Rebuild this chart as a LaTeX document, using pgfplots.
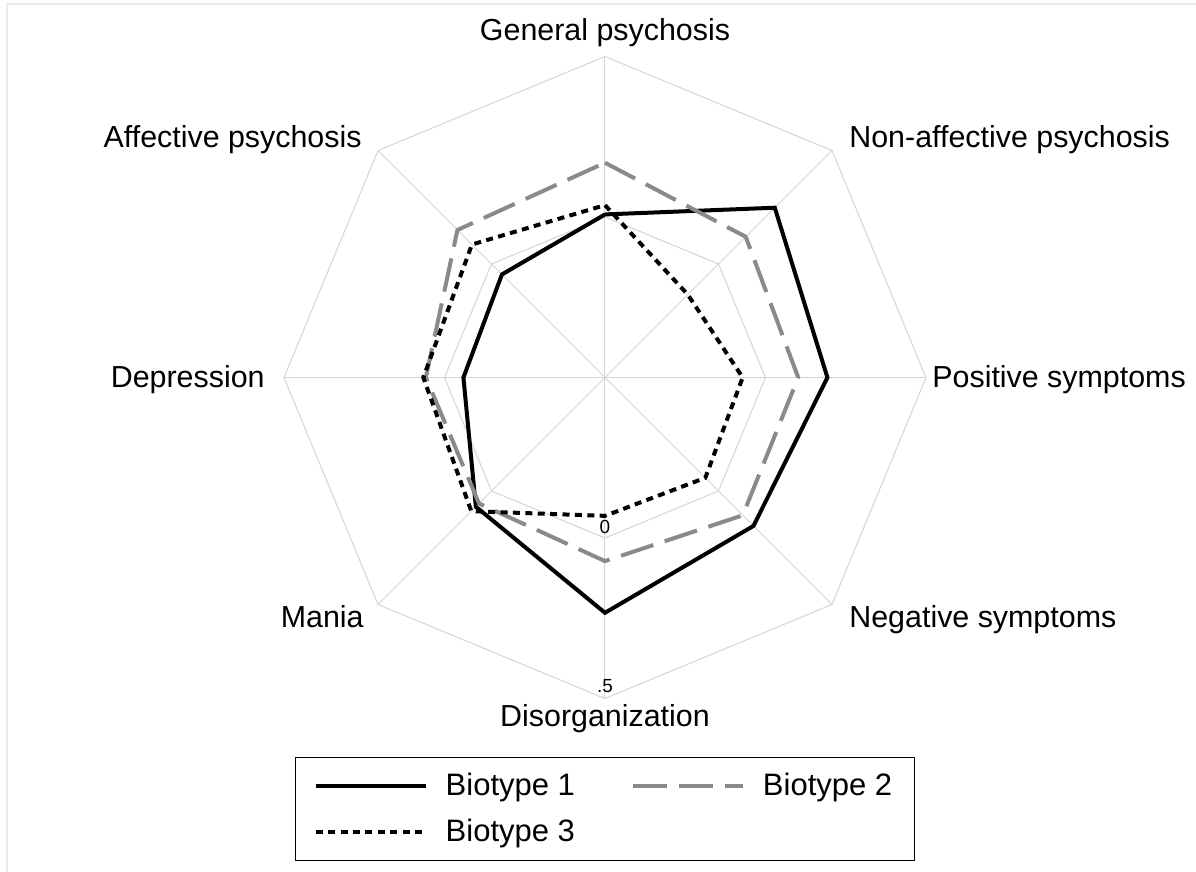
\documentclass[border=0pt]{standalone}
\usepackage{pgfplots}
\pgfplotsset{compat=1.18}
\usepackage{pgfplotstable}
\usepgfplotslibrary{polar}
\usepackage{fontspec}
\setmainfont{Liberation Sans}
\definecolor{gridc}{RGB}{212,212,212}
\definecolor{btwo}{RGB}{138,138,138}
\definecolor{framec}{RGB}{235,235,235}

% angle (deg), Biotype 1, Biotype 2, Biotype 3 (scale -0.5 .. 0.5)
\pgfplotstableread{
angle b1     b2     b3
90    0.008  0.169  0.037
45    0.248  0.120  -0.135
0     0.193  0.102  -0.071
315   0.154  0.107  -0.058
270   0.233  0.072  -0.069
225   0.069  0.055  0.089
180   -0.059 0.058  0.066
135   -0.046 0.150  0.086
90    0.008  0.169  0.037
}\radardata

\begin{document}
\begin{tikzpicture}
\begin{scope}[x=0.5pt,y=0.5pt]
\path[use as bounding box] (-605,-494.5) rectangle (591,377.5);
\draw[framec,line width=1.2pt] (-598,-500) -- (-598,373.5) -- (600,373.5);
\end{scope}
\begin{polaraxis}[
  at={(0pt,0pt)}, anchor=center,
  scale only axis, width=321pt, height=321pt,
  ymin=0, ymax=1, xmin=0, xmax=360,
  hide axis, clip=false,
  xtick=\empty, ytick=\empty,
  legend style={at={(0.5,-0.0907)}, anchor=north,
    draw=black, line width=0.6pt,
    font=\fontsize{15.5pt}{18pt}\selectfont,
    inner xsep=9pt, inner ysep=6pt,
    /tikz/every odd column/.append style={column sep=7pt},
    /tikz/every even column/.append style={column sep=26pt},
    row sep=6pt},
  legend columns=2,
  legend cell align=left,
  legend image code/.code={\draw[#1] (0pt,0pt) -- (55pt,0pt);},
]
% grid
\addplot[gridc, line width=0.5pt, forget plot] coordinates {(90,1) (45,1) (0,1) (315,1) (270,1) (225,1) (180,1) (135,1) (90,1)};
\addplot[gridc, line width=0.5pt, forget plot] coordinates {(90,0.5) (45,0.5) (0,0.5) (315,0.5) (270,0.5) (225,0.5) (180,0.5) (135,0.5) (90,0.5)};
\addplot[gridc, line width=0.5pt, forget plot] coordinates {(0,1) (180,1)};
\addplot[gridc, line width=0.5pt, forget plot] coordinates {(45,1) (225,1)};
\addplot[gridc, line width=0.5pt, forget plot] coordinates {(90,1) (270,1)};
\addplot[gridc, line width=0.5pt, forget plot] coordinates {(135,1) (315,1)};
% data
\addplot[black, line width=2pt, line join=miter] table[x=angle, y expr=\thisrow{b1}+0.5] {\radardata};
\addlegendentry{Biotype 1}
\addplot[btwo, line width=2pt, dash pattern=on 17pt off 6pt, line join=miter] table[x=angle, y expr=\thisrow{b2}+0.5] {\radardata};
\addlegendentry{Biotype 2}
\addplot[black, line width=2pt, dash pattern=on 3.5pt off 2.7pt, line join=miter] table[x=angle, y expr=\thisrow{b3}+0.5] {\radardata};
\addlegendentry{Biotype 3}
\end{polaraxis}
\begin{scope}[x=0.5pt,y=0.5pt, every node/.style={inner sep=0pt, font=\fontsize{15.2pt}{18pt}\selectfont}]
\node[anchor=base] at (0,336.5) {General psychosis};
\node[anchor=base west] at (244,229.5) {Non-affective psychosis};
\node[anchor=base east] at (-243,229.5) {Affective psychosis};
\node[anchor=base west] at (327,-10.5) {Positive symptoms};
\node[anchor=base east] at (-340,-10.5) {Depression};
\node[anchor=base west] at (244,-250.5) {Negative symptoms};
\node[anchor=base east] at (-241,-250.5) {Mania};
\node[anchor=base] at (0,-349.5) {Disorganization};
\node[anchor=base, font=\fontsize{9.5pt}{11pt}\selectfont] at (0,-155.8) {0};
\node[anchor=base, font=\fontsize{9.5pt}{11pt}\selectfont] at (0,-315.5) {.5};
\end{scope}
\end{tikzpicture}
\end{document}
